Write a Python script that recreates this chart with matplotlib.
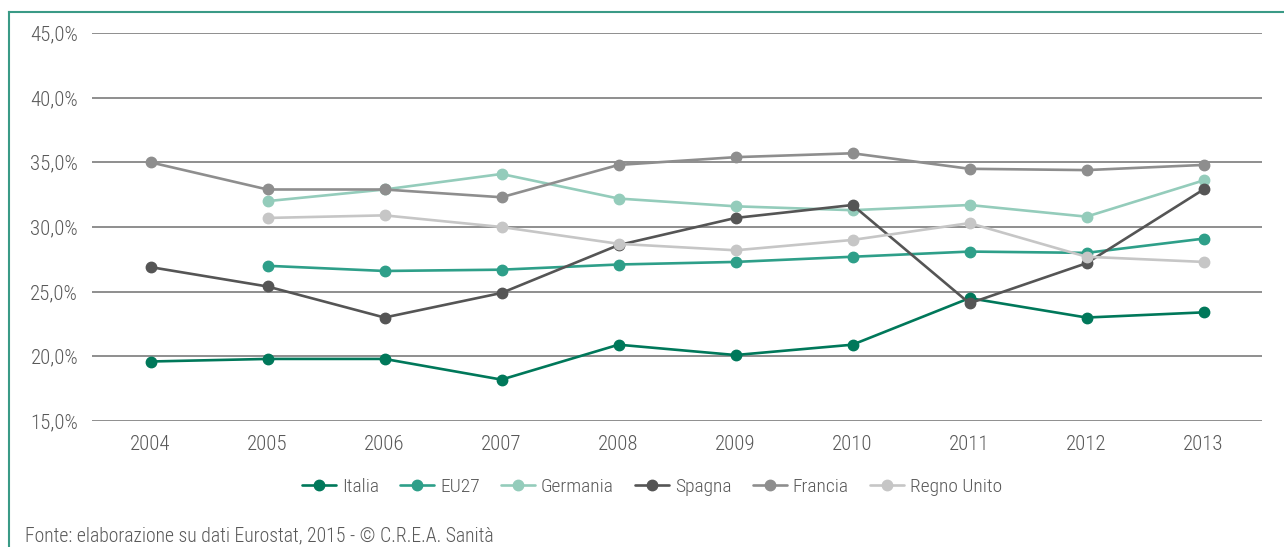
import matplotlib
matplotlib.use("Agg")
import matplotlib.pyplot as plt
from matplotlib import font_manager
from matplotlib.lines import Line2D
from matplotlib.ticker import FuncFormatter

# pick a narrow sans if one is around
names = {f.name for f in font_manager.fontManager.ttflist}
family = 'DejaVu Sans'
for cand in ['Roboto Condensed', 'Liberation Sans Narrow', 'Liberation Sans']:
    if cand in names:
        family = cand
        break
plt.rcParams['font.family'] = [family, 'DejaVu Sans']
plt.rcParams['font.weight'] = 'light'

years = ['2004', '2005', '2006', '2007', '2008', '2009', '2010', '2011', '2012', '2013']

italia = [19.6, 19.8, 19.8, 18.2, 20.9, 20.1, 20.9, 24.5, 23.0, 23.4]
eu27 = [None, 27.0, 26.6, 26.7, 27.1, 27.3, 27.7, 28.1, 28.0, 29.1]
germania = [None, 32.0, 32.9, 34.1, 32.2, 31.6, 31.3, 31.7, 30.8, 33.6]
spagna = [26.9, 25.4, 23.0, 24.9, 28.6, 30.7, 31.7, 24.1, 27.2, 32.9]
francia = [35.0, 32.9, 32.9, 32.3, 34.8, 35.4, 35.7, 34.5, 34.4, 34.8]
regno_unito = [None, 30.7, 30.9, 30.0, 28.7, 28.2, 29.0, 30.3, 27.7, 27.3]

series = [
    ('Italia', italia, '#00785a'),
    ('EU27', eu27, '#2e9f89'),
    ('Germania', germania, '#94ccbb'),
    ('Spagna', spagna, '#555555'),
    ('Francia', francia, '#8e8e8e'),
    ('Regno Unito', regno_unito, '#c6c6c6'),
]

txt = '#595959'
fs = 15

fig = plt.figure(figsize=(12.84, 5.47), dpi=100)
ax = fig.add_axes([92 / 1284, 1 - 421 / 547, 1170 / 1284, 388 / 547])

x = range(len(years))
for name, vals, col in series:
    xs = [i for i, v in zip(x, vals) if v is not None]
    ys = [v for v in vals if v is not None]
    ax.plot(xs, ys, color=col, lw=1.9, marker='o', ms=7.5, label=name,
            solid_capstyle='round', zorder=3)

ax.set_xlim(-0.5, len(years) - 0.5)
ax.set_ylim(15, 45)
ax.set_yticks(range(15, 46, 5))
ax.yaxis.set_major_formatter(FuncFormatter(lambda v, p: f'{v:.1f}%'.replace('.', ',')))
ax.set_xticks(list(x))
ax.set_xticklabels(years)
ax.grid(axis='y', color='#707070', lw=1.1)
ax.set_axisbelow(True)
for s in ax.spines.values():
    s.set_visible(False)
ax.tick_params(length=0, labelsize=fs, labelcolor=txt)
ax.tick_params(axis='x', pad=10)
ax.tick_params(axis='y', pad=10)

fig.legend(loc='center', bbox_to_anchor=(652 / 1284, 1 - 487 / 547), ncol=6,
           frameon=False, fontsize=14, labelcolor=txt, handlelength=1.75,
           handletextpad=0.3, columnspacing=1.1)

# teal frame on top and left
edge = '#3a9a86'
fig.add_artist(Line2D([9 / 1284, 1], [1 - 12 / 547, 1 - 12 / 547], color=edge, lw=1.5))
fig.add_artist(Line2D([9 / 1284, 9 / 1284], [0, 1 - 12 / 547], color=edge, lw=1.5))

fig.text(25 / 1284, 1 - 536 / 547, 'Fonte: elaborazione su dati Eurostat, 2015 - © C.R.E.A. Sanità',
         fontsize=14.2, color=txt, va='center')

fig.savefig('out.png', dpi=100)
